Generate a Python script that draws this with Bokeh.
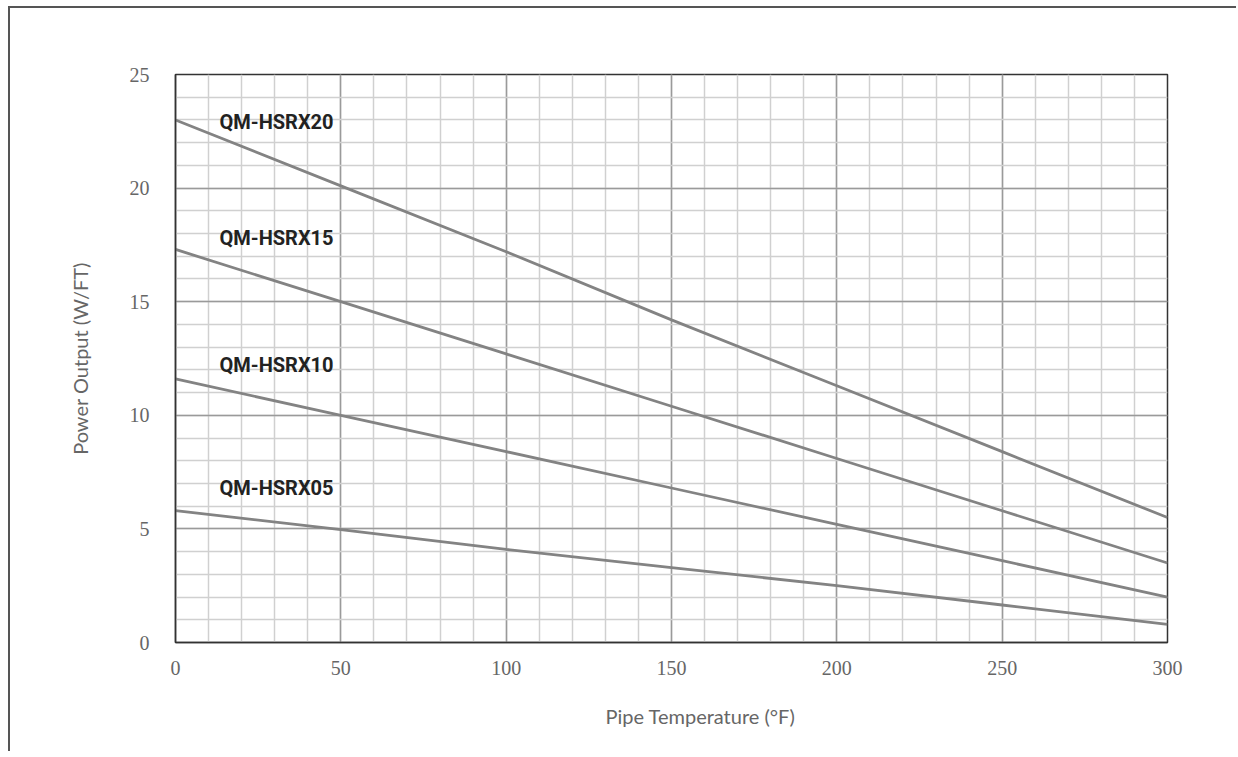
from bokeh.plotting import figure
from bokeh.models import Range1d, SingleIntervalTicker, Label, Title
from bokeh.embed import file_html
from bokeh.resources import INLINE

temps = [0, 50, 100, 150, 200, 250, 300]
hsrx20 = [23.0, 20.1, 17.2, 14.2, 11.3, 8.4, 5.5]
hsrx15 = [17.3, 15.0, 12.7, 10.4, 8.1, 5.8, 3.5]
hsrx10 = [11.6, 10.0, 8.4, 6.8, 5.2, 3.6, 2.0]
hsrx05 = [5.8, 4.97, 4.1, 3.3, 2.5, 1.65, 0.8]
series_names = ["QM-HSRX20", "QM-HSRX15", "QM-HSRX10", "QM-HSRX05"]
label_x = [13.3, 13.3, 13.3, 13.3]
label_y = [22.9, 17.8, 12.2, 6.8]

p = figure(width=1228, height=745, output_backend="svg", toolbar_location=None,
           x_range=Range1d(0, 300), y_range=Range1d(0, 25),
           min_border_left=165, min_border_top=66, min_border_right=71, min_border_bottom=111)
p.styles = {"border-top": "2px solid #555555", "border-left": "2px solid #555555",
            "margin-left": "8px", "margin-top": "6px"}

p.outline_line_color = "#333333"
p.outline_line_width = 1.5
p.outline_line_alpha = 1.0

xt = SingleIntervalTicker(interval=50, num_minor_ticks=5)
yt = SingleIntervalTicker(interval=5, num_minor_ticks=5)
p.xaxis.ticker = xt
p.yaxis.ticker = yt
p.xgrid.ticker = xt
p.ygrid.ticker = yt

for g in (p.xgrid, p.ygrid):
    g.grid_line_color = "#9a9a9a"
    g.grid_line_width = 1.5
    g.minor_grid_line_color = "#d0d0d0"
    g.minor_grid_line_width = 1.5

for ax in (p.xaxis, p.yaxis):
    ax.axis_line_color = "#333333"
    ax.axis_line_width = 1.5
    ax.major_tick_line_color = None
    ax.minor_tick_line_color = None
    ax.major_label_text_font = "Liberation Serif"
    ax.major_label_text_font_size = "20px"
    ax.major_label_text_color = "#666666"
    ax.axis_label_text_font = "Lato"
    ax.axis_label_text_font_size = "20px"
    ax.axis_label_text_font_style = "normal"
    ax.axis_label_text_color = "#666666"

p.xaxis.major_label_standoff = 12
p.yaxis.major_label_standoff = 20
p.yaxis.axis_label = "Power Output (W/FT)"
p.yaxis.axis_label_standoff = 35

for ys in (hsrx20, hsrx15, hsrx10, hsrx05):
    p.line(temps, ys, line_color="#838383", line_width=2.8)

for name, lx, ly in zip(series_names, label_x, label_y):
    p.add_layout(Label(x=lx, y=ly, text=name, text_font="Roboto", text_font_style="bold",
                       text_font_size="20px", text_color="#222222",
                       text_baseline="middle", text_align="left"))

xlabel = Title(text="Pipe Temperature (°F)", align="left", offset=430, standoff=48,
               text_font="Lato", text_font_size="20px", text_font_style="normal",
               text_color="#666666")
p.add_layout(xlabel, "below")

open("out.html", "w").write(file_html(p, INLINE))
